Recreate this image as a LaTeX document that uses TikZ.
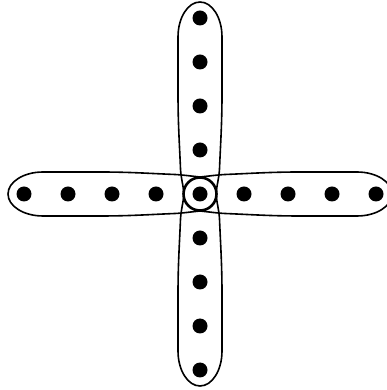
\documentclass[tikz,border=0pt]{standalone}
\usepackage{tikz}
\begin{document}
\begin{tikzpicture}[x=1pt, y=1pt,
  dot/.style={circle, fill=black, inner sep=0pt, minimum size=15pt},
  petal/.style={line width=1.6pt}]
  \useasboundingbox (0,0) rectangle (387,390);
  % sizes: half width, length, cap height
  \def\W{22} \def\L{192} \def\C{35}
  % centre dot
  \node[dot] (c) at (200,196) {};
  % arm dots
  \foreach \k in {1,...,4} {
    \node[dot] (up\k) at (200,196+44*\k) {};
    \node[dot] (dn\k) at (200,196-44*\k) {};
    \node[dot] (lf\k) at (200-44*\k,196) {};
    \node[dot] (rt\k) at (200+44*\k,196) {};
  }
  % petals
  \foreach \a/\R in {0/16, 90/17, 180/16, 270/17} {
    \begin{scope}[shift={(c)}, rotate=\a]
      \draw[petal] (-\R,0) arc[start angle=180, end angle=360, radius=\R]
        .. controls (\R+1,10) and (19,16) .. (19.5,25)
        .. controls (20.5,50) and (\W,70) .. (\W,100) -- (\W,\L-\C)
        arc[start angle=0, end angle=180, x radius=\W, y radius=\C]
        -- (-\W,100) .. controls (-\W,70) and (-20.5,50) .. (-19.5,25)
        .. controls (-19,16) and (-\R-1,10) .. (-\R,0) -- cycle;
    \end{scope}
  }
\end{tikzpicture}
\end{document}
